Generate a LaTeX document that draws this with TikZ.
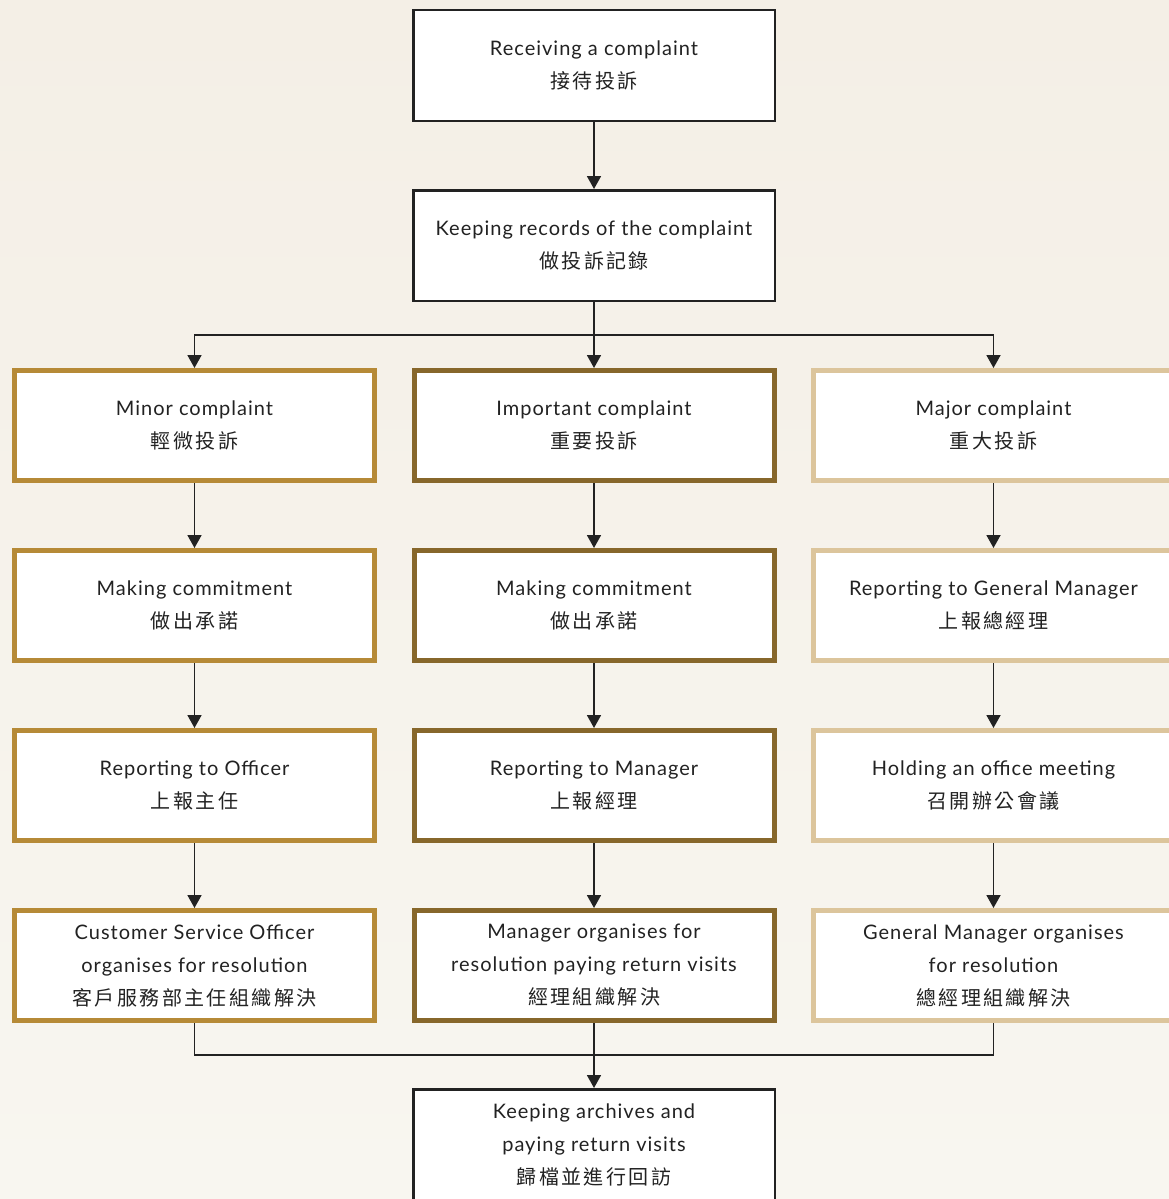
\documentclass[tikz,border=0pt]{standalone}
\usepackage{fontspec}
\setmainfont[LetterSpace=5]{Lato}
\newfontfamily\cjk[LetterSpace=12]{Noto Sans CJK TC}
\usetikzlibrary{arrows.meta}
\definecolor{bgtop}{HTML}{F4EFE6}
\definecolor{bgmid}{HTML}{FBFAF6}
\definecolor{bgbot}{HTML}{F8F6F0}
\definecolor{textc}{HTML}{222222}
\definecolor{boxblack}{HTML}{222222}
\definecolor{linec}{HTML}{222222}
\definecolor{minorc}{HTML}{B68A37}
\definecolor{impc}{HTML}{87672B}
\definecolor{majc}{HTML}{DCC59C}
\newcommand{\zh}[1]{{\cjk\fontsize{20}{33}\selectfont #1}}
\begin{document}
\begin{tikzpicture}[x=1pt,y=-1pt,
  basebox/.style={rectangle, fill=white, align=center, text=textc, inner sep=0pt,
    font=\fontsize{20}{33}\selectfont},
  blackbox/.style={basebox, draw=boxblack, line width=2.5pt, minimum width=361.5pt, minimum height=110.5pt},
  minorbox/.style={basebox, draw=minorc, line width=5pt, minimum width=360pt, minimum height=110pt},
  impbox/.style={basebox, draw=impc, line width=5pt, minimum width=360pt, minimum height=110pt},
  majbox/.style={basebox, draw=majc, line width=5pt, minimum width=360pt, minimum height=110pt},
  conn/.style={line width=1.8pt, draw=linec},
  arr/.style={conn, -{Triangle[width=14pt,length=13pt]}}
]
\useasboundingbox (0,0) rectangle (1169,1199);
\clip (0,0) rectangle (1169,1199);
\shade[top color=bgtop, middle color=bgmid, bottom color=bgbot] (0,0) rectangle (1169,1199);

\node[blackbox] (b1) at (594,65.5) {Receiving a complaint\\\zh{接待投訴}};
\node[blackbox] (b2) at (594,245.5) {Keeping records of the complaint\\\zh{做投訴記錄}};

\node[minorbox] (m1) at (194.5,425.5) {Minor complaint\\\zh{輕微投訴}};
\node[minorbox] (m2) at (194.5,605.5) {Making commitment\\\zh{做出承諾}};
\node[minorbox] (m3) at (194.5,785.5) {Reporting to Officer\\\zh{上報主任}};
\node[minorbox] (m4) at (194.5,965.5) {Customer Service Officer\\organises for resolution\\\zh{客戶服務部主任組織解決}};

\node[impbox] (i1) at (594,425.5) {Important complaint\\\zh{重要投訴}};
\node[impbox] (i2) at (594,605.5) {Making commitment\\\zh{做出承諾}};
\node[impbox] (i3) at (594,785.5) {Reporting to Manager\\\zh{上報經理}};
\node[impbox] (i4) at (594,965.5) {Manager organises for\\resolution paying return visits\\\zh{經理組織解決}};

\node[majbox] (j1) at (993.5,425.5) {Major complaint\\\zh{重大投訴}};
\node[majbox] (j2) at (993.5,605.5) {Reporting to General Manager\\\zh{上報總經理}};
\node[majbox] (j3) at (993.5,785.5) {Holding an office meeting\\\zh{召開辦公會議}};
\node[majbox] (j4) at (993.5,965.5) {General Manager organises\\for resolution\\\zh{總經理組織解決}};

\node[blackbox] (fin) at (594,1144.5) {Keeping archives and\\paying return visits\\\zh{歸檔並進行回訪}};

\coordinate (sp) at (594,335);
\coordinate (mg) at (594,1055);

\draw[arr] (b1) -- (b2);
\draw[conn] (b2) -- (sp);
\draw[arr] (sp) -| (m1.north);
\draw[arr] (sp) -| (j1.north);
\draw[arr] (sp) -- (i1.north);

\draw[arr] (m1) -- (m2);
\draw[arr] (m2) -- (m3);
\draw[arr] (m3) -- (m4);
\draw[arr] (i1) -- (i2);
\draw[arr] (i2) -- (i3);
\draw[arr] (i3) -- (i4);
\draw[arr] (j1) -- (j2);
\draw[arr] (j2) -- (j3);
\draw[arr] (j3) -- (j4);

\draw[conn] (m4.south) |- (mg);
\draw[conn] (j4.south) |- (mg);
\draw[arr] (i4) -- (fin);
\end{tikzpicture}
\end{document}
